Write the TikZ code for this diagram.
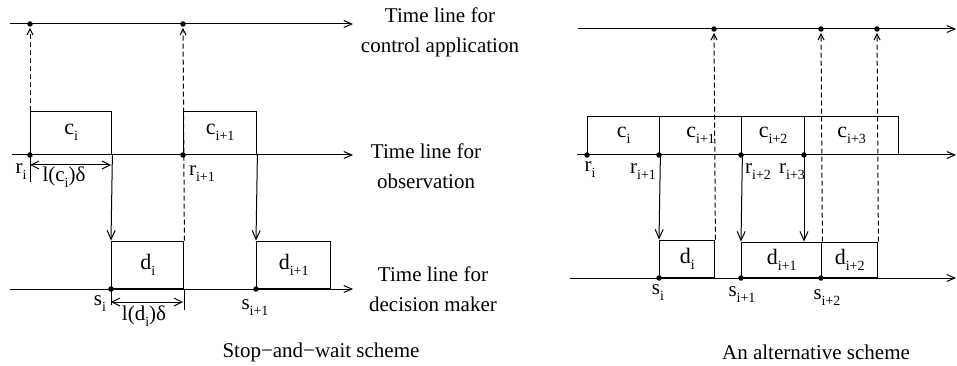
\documentclass[tikz,border=0pt]{standalone}
\usepackage{fontspec}
\setmainfont{Liberation Serif}
\usetikzlibrary{arrows.meta}
\newcommand\sbs[1]{\raisebox{-6pt}{\fontsize{14}{14}\selectfont #1}}
\begin{document}
\begin{tikzpicture}[x=1pt,y=-1pt]
\tikzset{tl/.style={line width=1pt, -{Straight Barb[length=8pt,width=7pt]}},
  box/.style={draw, line width=1.4pt, inner sep=0pt, anchor=south west, font=\fontsize{22}{25}\selectfont},
  lab/.style={inner sep=0pt, font=\fontsize{21}{30}\selectfont},
  sol/.style={line width=1pt, -{Straight Barb[length=9pt,width=8pt]}},
  dsh/.style={line width=1pt, dash pattern=on 5pt off 3pt, -{Straight Barb[length=6pt,width=6pt]}, shorten >=1pt},
  dim/.style={line width=1pt, {Straight Barb[length=8pt,width=8pt]}-{Straight Barb[length=8pt,width=8pt]}},
  dot/.style={circle, fill, inner sep=0pt, minimum size=5.5pt}}
\useasboundingbox (0,0) rectangle (957,366);
\coordinate (L1a) at (10,24);
\coordinate (L1b) at (353,24);
\coordinate (L2a) at (12,155);
\coordinate (L2b) at (353,155);
\coordinate (L3a) at (10,289);
\coordinate (L3b) at (353,289);
\draw[tl] (L1a) -- (L1b);
\draw[tl] (L2a) -- (L2b);
\draw[tl] (L3a) -- (L3b);
\node[lab, align=center] (tctl) at (440,32) {Time line for\\control application};
\node[lab, align=center] (tobs) at (426,166) {Time line for\\observation};
\node[lab, align=center] (tdec) at (433,289) {Time line for\\decision maker};
\node[box, minimum width=81pt, minimum height=43pt] (ci) at (30,155) {c\sbs{i}};
\node[box, minimum width=73pt, minimum height=43pt] (ci1) at (183,155) {c\sbs{i+1}};
\node[box, minimum width=72pt, minimum height=47pt] (di) at (111,289) {d\sbs{i}};
\node[box, minimum width=74pt, minimum height=47pt] (di1) at (256,289) {d\sbs{i+1}};
\node[dot] (ai) at (30,24) {};
\node[dot] (ai1) at (183,24) {};
\node[dot] (ri) at (ci.south west) {};
\node[dot] (ri1) at (ci1.south west) {};
\node[dot] (si) at (di.south west) {};
\node[dot] (si1) at (di1.south west) {};
\draw[dsh] (ci.north west) -- (ai);
\draw[dsh] (di.north east) -- (ai1);
\draw[dash pattern=on 5pt off 3pt, line width=1pt] (ri1.center) -- (ci1.north west);
\draw[sol] (ci.south east) -- (di.north west);
\draw[sol] (ci1.south east) -- (di1.north west);
\draw[line width=1pt] (ri.center) -- ++(0,27);
\draw[line width=1pt] (si.center) -- ++(0,16);
\draw[line width=1pt] (di.south east) -- ++(0,21);
\coordinate (dc0) at (30,165);
\coordinate (dc1) at (111,165);
\coordinate (dd0) at (111,302);
\coordinate (dd1) at (183,302);
\draw[dim] (dc0) -- (dc1);
\draw[dim] (dd0) -- (dd1);
\node[lab] (lci) at (64,177) {l(c\sbs{i})δ};
\node[lab] (ldi) at (144,316) {l(d\sbs{i})δ};
\node[lab] (nri) at (21,172) {r\sbs{i}};
\node[lab] (nri1) at (202,174) {r\sbs{i+1}};
\node[lab] (nsi) at (100,304) {s\sbs{i}};
\node[lab] (nsi1) at (255,308) {s\sbs{i+1}};
\node[lab] (capL) at (321,352) {Stop−and−wait scheme};
\coordinate (R1a) at (578,29);
\coordinate (R1b) at (956,29);
\coordinate (R2a) at (577,155);
\coordinate (R2b) at (956,155);
\coordinate (R3a) at (570,278);
\coordinate (R3b) at (956,278);
\draw[tl] (R1a) -- (R1b);
\draw[tl] (R2a) -- (R2b);
\draw[tl] (R3a) -- (R3b);
\node[box, minimum width=72pt, minimum height=38pt] (Ci) at (587,155) {c\sbs{i}};
\node[box, minimum width=82pt, minimum height=38pt] (Ci1) at (659,155) {c\sbs{i+1}};
\node[box, minimum width=63pt, minimum height=38pt] (Ci2) at (741,155) {c\sbs{i+2}};
\node[box, minimum width=94pt, minimum height=38pt] (Ci3) at (804,155) {c\sbs{i+3}};
\node[box, minimum width=55pt, minimum height=37pt] (Di) at (659,278) {d\sbs{i}};
\node[box, minimum width=80pt, minimum height=35pt] (Di1) at (741,278) {d\sbs{i+1}};
\node[box, minimum width=56pt, minimum height=35pt] (Di2) at (821,278) {d\sbs{i+2}};
\node[dot] (A0) at (714,29) {};
\node[dot] (A1) at (821,29) {};
\node[dot] (A2) at (877,29) {};
\node[dot] (Ri) at (Ci.south west) {};
\node[dot] (Ri1) at (Ci1.south west) {};
\node[dot] (Ri2) at (Ci2.south west) {};
\node[dot] (Ri3) at (Ci3.south west) {};
\node[dot] (Si) at (Di.south west) {};
\node[dot] (Si1) at (Di1.south west) {};
\node[dot] (Si2) at (Di2.south west) {};
\draw[dsh] (Di.north east) -- (A0);
\draw[dsh] (Di1.north east) -- (A1);
\draw[dsh] (Di2.north east) -- (A2);
\draw[sol] (Ci.south east) -- (Di.north west);
\draw[sol] (Ci1.south east) -- (Di1.north west);
\draw[sol] (Ri3.center) -- (Ri3 |- Di1.north);
\node[lab] (nRi) at (590,170) {r\sbs{i}};
\node[lab] (nRi1) at (643,172) {r\sbs{i+1}};
\node[lab] (nRi2) at (758,172) {r\sbs{i+2}};
\node[lab] (nRi3) at (792,172) {r\sbs{i+3}};
\node[lab] (nSi) at (658,293) {s\sbs{i}};
\node[lab] (nSi1) at (742,295) {s\sbs{i+1}};
\node[lab] (nSi2) at (827,298) {s\sbs{i+2}};
\node[lab] (capR) at (816,352) {An alternative scheme};
\end{tikzpicture}
\end{document}
